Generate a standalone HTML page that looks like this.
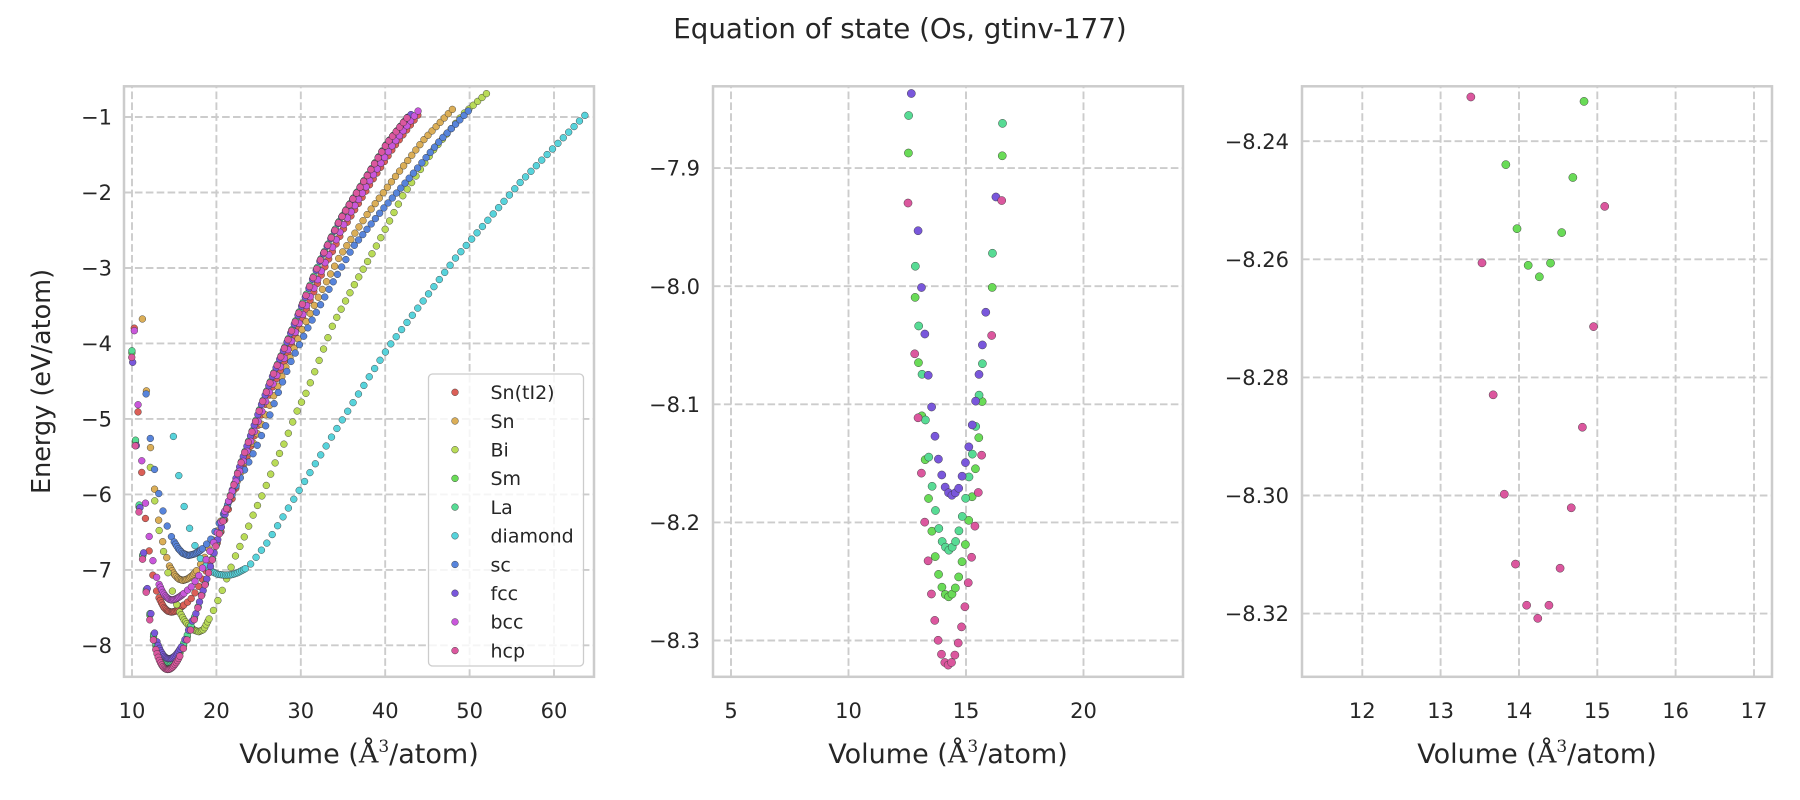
<!DOCTYPE html>
<html>
<head>
<meta charset="utf-8">
<style>
html,body{margin:0;padding:0;background:#ffffff;}
svg{display:block;font-family:"DejaVu Sans","Liberation Sans",sans-serif;}
</style>
</head>
<body>
<svg id="fig" width="1800" height="800" viewBox="0 0 1800 800" xmlns="http://www.w3.org/2000/svg">
<defs>
<clipPath id="c0"><rect x="124" y="86.3" width="470" height="590.5"/></clipPath>
<clipPath id="c1"><rect x="713" y="86.3" width="470" height="590.5"/></clipPath>
<clipPath id="c2"><rect x="1302" y="86.3" width="470" height="590.5"/></clipPath>
</defs>
<rect x="0" y="0" width="1800" height="800" fill="#ffffff"/>

<!-- grid -->
<g stroke="#cccccc" stroke-width="1.9" stroke-dasharray="7.6 3.3" fill="none">
<!-- panel 1 -->
<line x1="132.0" y1="676.8" x2="132.0" y2="86.3"/>
<line x1="216.4" y1="676.8" x2="216.4" y2="86.3"/>
<line x1="300.8" y1="676.8" x2="300.8" y2="86.3"/>
<line x1="385.2" y1="676.8" x2="385.2" y2="86.3"/>
<line x1="469.6" y1="676.8" x2="469.6" y2="86.3"/>
<line x1="554.0" y1="676.8" x2="554.0" y2="86.3"/>
<line x1="124" y1="117.0" x2="594" y2="117.0"/>
<line x1="124" y1="192.5" x2="594" y2="192.5"/>
<line x1="124" y1="268.0" x2="594" y2="268.0"/>
<line x1="124" y1="343.4" x2="594" y2="343.4"/>
<line x1="124" y1="418.9" x2="594" y2="418.9"/>
<line x1="124" y1="494.4" x2="594" y2="494.4"/>
<line x1="124" y1="569.9" x2="594" y2="569.9"/>
<line x1="124" y1="645.3" x2="594" y2="645.3"/>
<!-- panel 2 -->
<line x1="731.0" y1="676.8" x2="731.0" y2="86.3"/>
<line x1="848.5" y1="676.8" x2="848.5" y2="86.3"/>
<line x1="966.0" y1="676.8" x2="966.0" y2="86.3"/>
<line x1="1083.5" y1="676.8" x2="1083.5" y2="86.3"/>
<line x1="713" y1="168.1" x2="1183" y2="168.1"/>
<line x1="713" y1="286.2" x2="1183" y2="286.2"/>
<line x1="713" y1="404.3" x2="1183" y2="404.3"/>
<line x1="713" y1="522.4" x2="1183" y2="522.4"/>
<line x1="713" y1="640.5" x2="1183" y2="640.5"/>
<!-- panel 3 -->
<line x1="1362.3" y1="676.8" x2="1362.3" y2="86.3"/>
<line x1="1440.6" y1="676.8" x2="1440.6" y2="86.3"/>
<line x1="1519.0" y1="676.8" x2="1519.0" y2="86.3"/>
<line x1="1597.3" y1="676.8" x2="1597.3" y2="86.3"/>
<line x1="1675.6" y1="676.8" x2="1675.6" y2="86.3"/>
<line x1="1754.0" y1="676.8" x2="1754.0" y2="86.3"/>
<line x1="1302" y1="141.2" x2="1772" y2="141.2"/>
<line x1="1302" y1="259.3" x2="1772" y2="259.3"/>
<line x1="1302" y1="377.4" x2="1772" y2="377.4"/>
<line x1="1302" y1="495.5" x2="1772" y2="495.5"/>
<line x1="1302" y1="613.6" x2="1772" y2="613.6"/>
</g>

<!-- data groups -->
<g id="d0" clip-path="url(#c0)" stroke="#333333" stroke-width="0.5" stroke-opacity="0.85"></g>
<g id="d1" clip-path="url(#c1)" stroke="#333333" stroke-width="0.5" stroke-opacity="0.85"></g>
<g id="d2" clip-path="url(#c2)" stroke="#333333" stroke-width="0.5" stroke-opacity="0.85"></g>

<!-- spines -->
<g fill="none" stroke="#cccccc" stroke-width="2.5">
<rect x="124" y="86.3" width="470" height="590.5"/>
<rect x="713" y="86.3" width="470" height="590.5"/>
<rect x="1302" y="86.3" width="470" height="590.5"/>
</g>

<!-- legend -->
<g>
<rect x="428.5" y="374" width="155" height="292" rx="4" ry="4" fill="#ffffff" fill-opacity="0.8" stroke="#cccccc" stroke-width="1.3"/>
<g stroke="#333333" stroke-width="0.5" stroke-opacity="0.85">
<circle cx="455" cy="392.3" r="3.4" fill="#db5f57"/>
<circle cx="455" cy="421.0" r="3.4" fill="#dbae57"/>
<circle cx="455" cy="449.7" r="3.4" fill="#b9db57"/>
<circle cx="455" cy="478.4" r="3.4" fill="#69db57"/>
<circle cx="455" cy="507.1" r="3.4" fill="#57db94"/>
<circle cx="455" cy="535.8" r="3.4" fill="#57d3db"/>
<circle cx="455" cy="564.5" r="3.4" fill="#5784db"/>
<circle cx="455" cy="593.2" r="3.4" fill="#7957db"/>
<circle cx="455" cy="621.9" r="3.4" fill="#c957db"/>
<circle cx="455" cy="650.6" r="3.4" fill="#db579e"/>
</g>
<g font-size="19" fill="#262626">
<text x="490.5" y="399.1">Sn(tI2)</text>
<text x="490.5" y="427.8">Sn</text>
<text x="490.5" y="456.5">Bi</text>
<text x="490.5" y="485.2">Sm</text>
<text x="490.5" y="513.9">La</text>
<text x="490.5" y="542.6">diamond</text>
<text x="490.5" y="571.3">sc</text>
<text x="490.5" y="600.0">fcc</text>
<text x="490.5" y="628.7">bcc</text>
<text x="490.5" y="657.4">hcp</text>
</g>
</g>

<!-- tick labels -->
<g font-size="21" fill="#262626">
<g text-anchor="middle">
<text x="132.0" y="718">10</text>
<text x="216.4" y="718">20</text>
<text x="300.8" y="718">30</text>
<text x="385.2" y="718">40</text>
<text x="469.6" y="718">50</text>
<text x="554.0" y="718">60</text>
<text x="731.0" y="718">5</text>
<text x="848.5" y="718">10</text>
<text x="966.0" y="718">15</text>
<text x="1083.5" y="718">20</text>
<text x="1362.3" y="718">12</text>
<text x="1440.6" y="718">13</text>
<text x="1519.0" y="718">14</text>
<text x="1597.3" y="718">15</text>
<text x="1675.6" y="718">16</text>
<text x="1754.0" y="718">17</text>
</g>
<g text-anchor="end">
<text x="112" y="124.6">−1</text>
<text x="112" y="200.1">−2</text>
<text x="112" y="275.6">−3</text>
<text x="112" y="351.0">−4</text>
<text x="112" y="426.5">−5</text>
<text x="112" y="502.0">−6</text>
<text x="112" y="577.5">−7</text>
<text x="112" y="652.9">−8</text>
<text x="700" y="175.7">−7.9</text>
<text x="700" y="293.8">−8.0</text>
<text x="700" y="411.9">−8.1</text>
<text x="700" y="530.0">−8.2</text>
<text x="700" y="648.1">−8.3</text>
<text x="1289" y="148.8">−8.24</text>
<text x="1289" y="266.9">−8.26</text>
<text x="1289" y="385.0">−8.28</text>
<text x="1289" y="503.1">−8.30</text>
<text x="1289" y="621.2">−8.32</text>
</g>
</g>

<!-- axis labels -->
<g font-size="27" fill="#262626" text-anchor="middle">
<text x="359" y="763">Volume (<tspan font-family="DejaVu Serif">Å</tspan><tspan font-family="DejaVu Serif" font-size="17" dy="-11">3</tspan><tspan dy="11">/atom)</tspan></text>
<text x="948" y="763">Volume (<tspan font-family="DejaVu Serif">Å</tspan><tspan font-family="DejaVu Serif" font-size="17" dy="-11">3</tspan><tspan dy="11">/atom)</tspan></text>
<text x="1537" y="763">Volume (<tspan font-family="DejaVu Serif">Å</tspan><tspan font-family="DejaVu Serif" font-size="17" dy="-11">3</tspan><tspan dy="11">/atom)</tspan></text>
<text transform="translate(50,381.5) rotate(-90)" font-size="25.5">Energy (eV/atom)</text>
</g>

<!-- title -->
<text x="900" y="38" text-anchor="middle" font-size="27.7" fill="#262626">Equation of state (Os, gtinv-177)</text>
</svg>

<script>
(function(){
var NS="http://www.w3.org/2000/svg";
var R=[],i;
for(i=0;i<7;i++)R.push(0.70+0.03*i);
for(i=0;i<=20;i++)R.push(0.90+0.01*i);
for(i=0;i<63;i++)R.push(1.13+0.03*i);
function ip(a,v){
  var n=a.length,k;
  if(v<=a[0][0]){return a[0][1]+(a[1][1]-a[0][1])*(v-a[0][0])/(a[1][0]-a[0][0]);}
  for(k=1;k<n;k++){
    if(v<=a[k][0]){return a[k-1][1]+(a[k][1]-a[k-1][1])*(v-a[k-1][0])/(a[k][0]-a[k-1][0]);}
  }
  return a[n-2][1]+(a[n-1][1]-a[n-2][1])*(v-a[n-2][0])/(a[n-1][0]-a[n-2][0]);
}
var B=[[17.66,-7.56],[18.06,-7.40],[18.65,-7.20],[19.16,-7.01],[19.6,-6.83],[20.0,-6.66],[20.6,-6.43],[21.6,-6.04],[22.8,-5.62],[24.0,-5.24],[25.2,-4.85],[26.7,-4.42],[28.3,-4.0],[30.7,-3.34],[32.3,-2.90],[34.6,-2.37],[37.8,-1.79],[40.2,-1.35],[42.6,-1.01],[44,-0.88]];
function cat(a){return a.concat(B);}
var S=[
 {c:"#db5f57",v:14.67,a:[[10.27,-3.80],[10.71,-4.91],[11.15,-5.71],[11.59,-6.32],[12.03,-6.75],[12.47,-7.07],[12.91,-7.28],[13.2,-7.37],[13.5,-7.44],[13.8,-7.50],[14.2,-7.545],[14.67,-7.56],[15.1,-7.55],[15.5,-7.52],[16.1,-7.47],[16.9,-7.40],[17.66,-7.27],[18.45,-7.10],[19.0,-6.96],[19.6,-6.80],[20.3,-6.58],[21,-6.33],[22.2,-5.95],[24.0,-5.38],[26.0,-4.75],[28.8,-4.05],[31.2,-3.40],[33,-2.95],[35.2,-2.45],[38.4,-1.85],[41,-1.40],[43.9,-0.97]]},
 {c:"#dbae57",v:16.04,a:[[11.23,-3.68],[11.71,-4.63],[12.19,-5.38],[12.67,-5.93],[13.15,-6.34],[13.64,-6.63],[14.12,-6.84],[14.44,-6.95],[15.0,-7.06],[15.5,-7.12],[16.04,-7.14],[16.6,-7.12],[17.2,-7.07],[17.65,-7.01],[18.5,-6.86],[20,-6.5],[22,-5.95],[24,-5.42],[26,-4.9],[27.9,-4.40],[30.1,-3.83],[32.3,-3.34],[34.6,-2.85],[37.8,-2.30],[41.2,-1.79],[44.5,-1.31],[47.95,-0.90]]},
 {c:"#b9db57",v:17.39,a:[[12.17,-5.64],[12.7,-6.09],[13.2,-6.47],[13.8,-6.79],[14.3,-7.06],[14.8,-7.29],[15.3,-7.46],[15.65,-7.56],[16.2,-7.67],[16.8,-7.75],[17.4,-7.80],[17.9,-7.82],[18.5,-7.79],[19.13,-7.65],[19.6,-7.55],[20.2,-7.40],[20.7,-7.27],[22.2,-6.83],[23.4,-6.54],[24.4,-6.26],[25.6,-5.97],[27.0,-5.57],[28.1,-5.31],[29.5,-4.91],[30.7,-4.64],[31.6,-4.39],[33.85,-3.74],[36.2,-3.25],[39.0,-2.70],[42.1,-2.04],[45.7,-1.44],[49.3,-0.955],[52.0,-0.69]]},
 {c:"#69db57",v:14.26,a:cat([[9.98,-4.12],[10.41,-5.30],[10.84,-6.17],[11.27,-6.82],[11.69,-7.28],[12.12,-7.60],[12.55,-7.888],[12.84,-8.012],[12.98,-8.066],[13.12,-8.11],[13.27,-8.149],[13.41,-8.181],[13.55,-8.208],[13.69,-8.229],[13.83,-8.2438],[13.97,-8.2546],[14.11,-8.2609],[14.25,-8.2631],[14.39,-8.2611],[14.55,-8.2553],[14.69,-8.246],[14.83,-8.2333],[14.98,-8.218],[15.11,-8.199],[15.26,-8.178],[15.41,-8.153],[15.55,-8.127],[15.68,-8.099],[16.11,-8.002],[16.54,-7.890],[17.2,-7.70]])},
 {c:"#57db94",v:14.27,a:cat([[9.99,-4.10],[10.42,-5.29],[10.85,-6.15],[11.27,-6.80],[11.70,-7.26],[12.13,-7.58],[12.56,-7.857],[12.84,-7.982],[12.98,-8.032],[13.13,-8.075],[13.27,-8.113],[13.41,-8.144],[13.56,-8.170],[13.70,-8.19],[13.84,-8.205],[13.98,-8.216],[14.13,-8.221],[14.27,-8.2235],[14.41,-8.221],[14.56,-8.216],[14.70,-8.207],[14.84,-8.195],[14.98,-8.180],[15.13,-8.161],[15.27,-8.142],[15.41,-8.119],[15.55,-8.093],[15.70,-8.065],[16.13,-7.971],[16.55,-7.863],[17.2,-7.68]])},
 {c:"#57d3db",v:21.29,a:[[14.9,-5.23],[15.54,-5.75],[16.18,-6.16],[16.82,-6.45],[17.46,-6.68],[18.1,-6.85],[18.73,-6.95],[19.16,-7.0],[19.6,-7.03],[20.2,-7.06],[21.0,-7.07],[21.8,-7.065],[22.5,-7.04],[23.0,-7.01],[23.5,-6.98],[24.18,-6.91],[26.08,-6.63],[29.19,-6.06],[33.7,-5.23],[38.12,-4.44],[40.57,-4.02],[48.39,-2.86],[55.97,-1.87],[63.67,-0.977]]},
 {c:"#5784db",v:16.67,a:[[11.67,-4.67],[12.17,-5.26],[12.67,-5.67],[13.17,-5.99],[13.67,-6.22],[14.17,-6.42],[14.67,-6.56],[15.0,-6.63],[15.5,-6.72],[16.0,-6.78],[16.67,-6.81],[17.4,-6.79],[18.0,-6.75],[18.45,-6.71],[19.44,-6.58],[20.4,-6.37],[21.4,-6.12],[22.4,-5.87],[23.8,-5.58],[24.8,-5.36],[25.96,-5.06],[27.3,-4.66],[28.7,-4.27],[30.9,-3.78],[33.5,-3.25],[36.2,-2.72],[39.8,-2.21],[43.3,-1.75],[46.5,-1.31],[49.85,-0.92]]},
 {c:"#7957db",v:14.4,a:cat([[10.08,-4.25],[10.51,-5.35],[10.94,-6.17],[11.38,-6.78],[11.81,-7.25],[12.24,-7.58],[12.67,-7.836],[12.96,-7.953],[13.10,-8.000],[13.25,-8.041],[13.39,-8.075],[13.54,-8.103],[13.68,-8.127],[13.82,-8.146],[13.97,-8.160],[14.11,-8.170],[14.26,-8.175],[14.40,-8.177],[14.54,-8.175],[14.69,-8.171],[14.83,-8.161],[14.98,-8.149],[15.12,-8.136],[15.26,-8.118],[15.41,-8.097],[15.55,-8.075],[15.70,-8.049],[15.84,-8.022],[16.27,-7.925],[16.70,-7.80],[17.2,-7.66]])},
 {c:"#c957db",v:14.68,a:[[10.28,-3.84],[10.72,-4.82],[11.16,-5.56],[11.60,-6.12],[12.04,-6.56],[12.48,-6.88],[12.92,-7.10],[13.2,-7.19],[13.6,-7.29],[14.0,-7.355],[14.4,-7.39],[14.7,-7.40],[15.1,-7.39],[15.6,-7.36],[16.08,-7.32],[17.07,-7.22],[18.06,-7.05],[18.85,-6.85],[19.6,-6.66],[20.3,-6.45],[21,-6.22],[22.2,-5.86],[24.0,-5.32],[26.0,-4.72],[28.8,-4.0],[31.2,-3.36],[33,-2.9],[35.2,-2.4],[38.4,-1.80],[41,-1.35],[43.9,-0.92]]},
 {c:"#db579e",v:14.24,a:cat([[9.97,-4.19],[10.40,-5.37],[10.82,-6.23],[11.25,-6.86],[11.68,-7.30],[12.10,-7.66],[12.53,-7.929],[12.82,-8.059],[12.96,-8.112],[13.10,-8.158],[13.24,-8.199],[13.386,-8.2326],[13.528,-8.2606],[13.67,-8.2829],[13.813,-8.2998],[13.955,-8.3116],[14.098,-8.3186],[14.24,-8.3208],[14.382,-8.3186],[14.525,-8.3123],[14.667,-8.3021],[14.81,-8.2884],[14.952,-8.2714],[15.094,-8.2511],[15.24,-8.229],[15.38,-8.203],[15.52,-8.175],[15.66,-8.144],[16.09,-8.042],[16.52,-7.927],[17.2,-7.72]])}
];
var T=86.3,H=590.5,W=470;
var P=[
 {L:124,x0:9.05,x1:64.74,y0:-8.417,y1:-0.593,r:3.4,g:"d0"},
 {L:713,x0:4.233,x1:24.233,y0:-8.3307,y1:-7.8307,r:4.1,g:"d1"},
 {L:1302,x0:11.23,x1:17.23,y0:-8.3307,y1:-8.2307,r:4.1,g:"d2"}
];
P.forEach(function(p){
  var g=document.getElementById(p.g);
  S.forEach(function(s){
    R.forEach(function(r){
      var V=r*s.v,E=ip(s.a,V);
      var X=p.L+(V-p.x0)/(p.x1-p.x0)*W;
      var Y=T+(p.y1-E)/(p.y1-p.y0)*H;
      if(X<p.L-6||X>p.L+W+6||Y<T-6||Y>T+H+6)return;
      var c=document.createElementNS(NS,"circle");
      c.setAttribute("cx",X.toFixed(2));
      c.setAttribute("cy",Y.toFixed(2));
      c.setAttribute("r",p.r);
      c.setAttribute("fill",s.c);
      g.appendChild(c);
    });
  });
});
})();
</script>
</body>
</html>
